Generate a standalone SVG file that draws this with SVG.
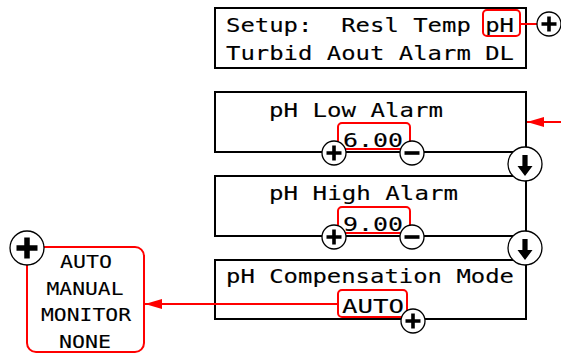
<svg xmlns="http://www.w3.org/2000/svg" xmlns:xlink="http://www.w3.org/1999/xlink" width="561" height="355" viewBox="0 0 561 355">
<style>
.box{fill:#fff;stroke:#000;stroke-width:2}
.sel{fill:none;stroke:#f00;stroke-width:2}
.btn{fill:#fff;stroke:#000;stroke-width:1.3}
.sym{stroke:#000;stroke-width:3.6;fill:none}
.lcd{font-family:"DejaVu Sans Mono","Liberation Mono",monospace;font-size:19.5px;fill:#000;stroke:#000;stroke-width:0.12}
.opt{font-family:"DejaVu Sans Mono","Liberation Mono",monospace;font-size:18px;fill:#000;stroke:#000;stroke-width:0.1;text-anchor:middle}
.wire{stroke:#f00;stroke-width:2;fill:none}
</style>
<defs>
<g id="plus"><circle class="btn" r="12"/><path class="sym" d="M-7.5 0H7.5M0 -7.5V7.5"/></g>
<g id="minus"><circle class="btn" r="12"/><path class="sym" d="M-7.5 0H7.5"/></g>
<g id="down"><circle class="btn" r="17"/><polygon fill="#000" points="-2.6,-9 2.6,-9 2.6,2 7.5,2 0,12 -7.5,2 -2.6,2"/></g>
<marker id="arr" markerUnits="userSpaceOnUse" markerWidth="18" markerHeight="12" refX="17" refY="5" orient="auto"><path d="M0 0L17 5L0 10z" fill="#f00"/></marker>
</defs>

<g id="setup-menu">
<rect class="box" x="215" y="8" width="311" height="60"/>
<text class="lcd" x="226" y="32" textLength="288" lengthAdjust="spacingAndGlyphs" xml:space="preserve">Setup:  Resl Temp pH</text>
<text class="lcd" x="226" y="60" textLength="288" lengthAdjust="spacingAndGlyphs">Turbid Aout Alarm DL</text>
<rect class="sel" x="483" y="10" width="37" height="26" rx="4"/>
</g>

<g id="ph-low-alarm">
<rect class="box" x="215" y="92" width="311" height="60"/>
<text class="lcd" x="269" y="117" textLength="174" lengthAdjust="spacingAndGlyphs">pH Low Alarm</text>
<text class="lcd" x="343" y="147" textLength="60" lengthAdjust="spacingAndGlyphs">6.00</text>
<rect class="sel" x="338" y="123" width="72" height="26" rx="4"/>
</g>

<g id="ph-high-alarm">
<rect class="box" x="215" y="176" width="311" height="60"/>
<text class="lcd" x="269" y="200" textLength="189" lengthAdjust="spacingAndGlyphs">pH High Alarm</text>
<text class="lcd" x="343" y="231" textLength="60" lengthAdjust="spacingAndGlyphs">9.00</text>
<rect class="sel" x="338" y="207" width="72" height="26" rx="4"/>
</g>

<g id="ph-compensation-mode">
<rect class="box" x="215" y="260" width="311" height="59"/>
<text class="lcd" x="226" y="283" textLength="288" lengthAdjust="spacingAndGlyphs">pH Compensation Mode</text>
<text class="lcd" x="342" y="313" textLength="62" lengthAdjust="spacingAndGlyphs">AUTO</text>
<rect class="sel" x="338" y="290" width="69" height="27" rx="4"/>
</g>

<g id="mode-options">
<rect class="sel" x="27" y="247" width="117" height="105" rx="9"/>
<text class="opt" x="86" y="268" textLength="52" lengthAdjust="spacingAndGlyphs">AUTO</text>
<text class="opt" x="85" y="295" textLength="77" lengthAdjust="spacingAndGlyphs">MANUAL</text>
<text class="opt" x="86" y="321" textLength="90" lengthAdjust="spacingAndGlyphs">MONITOR</text>
<text class="opt" x="85" y="348" textLength="52" lengthAdjust="spacingAndGlyphs">NONE</text>
</g>

<g id="connectors">
<line class="wire" x1="520" y1="24" x2="538" y2="24"/>
<line class="wire" x1="561" y1="122" x2="527" y2="122" marker-end="url(#arr)"/>
<line class="wire" x1="338" y1="304" x2="145" y2="304" marker-end="url(#arr)"/>
</g>

<g id="buttons">
<use xlink:href="#plus" x="549" y="24"/>
<use xlink:href="#plus" x="334" y="153"/>
<use xlink:href="#minus" x="412" y="153"/>
<use xlink:href="#down" x="525" y="164"/>
<use xlink:href="#plus" x="334" y="237"/>
<use xlink:href="#minus" x="412" y="237"/>
<use xlink:href="#down" x="525" y="248"/>
<use xlink:href="#plus" x="413" y="321"/>
<g transform="translate(27 248)"><circle class="btn" r="17"/><path class="sym" style="stroke-width:5.5" d="M-10.5 0H10.5M0 -10.5V10.5"/></g>
</g>
</svg>
